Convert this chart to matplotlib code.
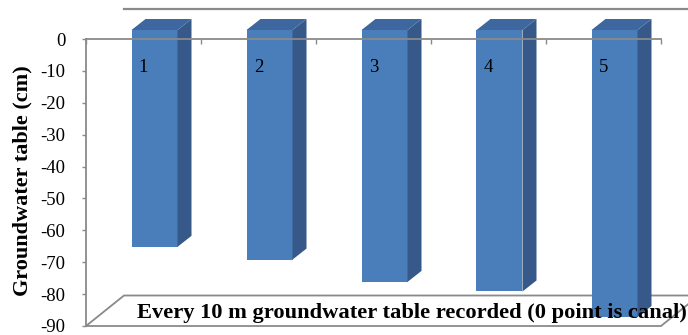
import numpy as np
import matplotlib
matplotlib.use('Agg')
import matplotlib.pyplot as plt
from matplotlib.patches import Polygon

# groundwater depth at each 10 m station (cm below canal level)
categories = ['1', '2', '3', '4', '5']
depth_cm = [-68, -72, -79, -82, -90]
y_ticks = list(range(-90, 1, 10))

FRONT = '#4a7ebb'
SIDE = '#36598a'
TOP = '#3e67a0'
GREY = '#8a8a8a'

plt.rcParams['font.family'] = ['Liberation Serif', 'DejaVu Serif']
plt.rcParams['axes.unicode_minus'] = False

fig = plt.figure(figsize=(6.88, 3.35), dpi=100)
ax = fig.add_axes([86 / 688, 9 / 335, 575 / 688, 287 / 335])
ax.set_xlim(-0.5, 4.5)
ax.set_ylim(-90, 0)

# fake 3d offsets, in data units
px_x = 575 / 5.0
px_y = 287 / 90.0
shift_x, shift_y = 11 / px_x, 9 / px_y
bar_dx, bar_dy = 14 / px_x, 11 / px_y
wall_dx, wall_dy = 38 / px_x, 30.5 / px_y

# floor and top edge of the back wall
floor = Polygon([(-0.5, -90), (-0.5 + wall_dx, -90 + wall_dy),
                 (4.5 + wall_dx, -90 + wall_dy), (4.5, -90)],
                closed=True, facecolor='white', edgecolor=GREY, lw=1.3,
                zorder=0.5, clip_on=False)
ax.add_patch(floor)
ax.plot([-0.5 + wall_dx, 4.5 + wall_dx], [wall_dy, wall_dy], color=GREY,
        lw=1.6, clip_on=False, zorder=0.5)

x = np.arange(len(categories)) + shift_x
bars = ax.bar(x, depth_cm, width=0.4, bottom=shift_y, color=FRONT, zorder=1)
for rect in bars:
    rect.set_clip_on(False)
    x0 = rect.get_x()
    x1 = x0 + rect.get_width()
    top = rect.get_y()
    bot = top + rect.get_height()
    side = Polygon([(x1, top), (x1 + bar_dx, top + bar_dy),
                    (x1 + bar_dx, bot + bar_dy), (x1, bot)],
                   closed=True, facecolor=SIDE, edgecolor='none',
                   zorder=1, clip_on=False)
    lid = Polygon([(x0, top), (x1, top), (x1 + bar_dx, top + bar_dy),
                   (x0 + bar_dx, top + bar_dy)],
                  closed=True, facecolor=TOP, edgecolor='none',
                  zorder=1, clip_on=False)
    ax.add_patch(side)
    ax.add_patch(lid)

for i, cat in enumerate(categories):
    ax.text(i, -8.9, cat, ha='center', va='center', fontsize=13.5, zorder=4)

ax.spines['right'].set_visible(False)
ax.spines['bottom'].set_visible(False)
for s in ['left', 'top']:
    ax.spines[s].set_color(GREY)
    ax.spines[s].set_linewidth(1.3)

ax.set_yticks(y_ticks)
ax.set_yticklabels([str(t) for t in y_ticks])
ax.tick_params(axis='y', colors=GREY, labelcolor='black', length=3,
               width=1, pad=12, labelsize=13.5)

ax.set_xticks([])
ax.set_xticks(np.arange(-0.5, 5, 1), minor=True)
ax.tick_params(axis='x', which='minor', top=True, bottom=False,
               direction='in', length=3.6, width=1, color=GREY)

ax.set_xlabel('Every 10 m groundwater table recorded (0 point is canal)',
              fontsize=16.2, fontweight='bold', va='baseline')
ax.xaxis.set_label_coords(0.567, 0.028)
ax.set_ylabel('Groundwater table (cm)', fontsize=16, fontweight='bold',
              va='center')
ax.yaxis.set_label_coords(-0.111, 0.505)

fig.savefig('out.png', dpi=100)
